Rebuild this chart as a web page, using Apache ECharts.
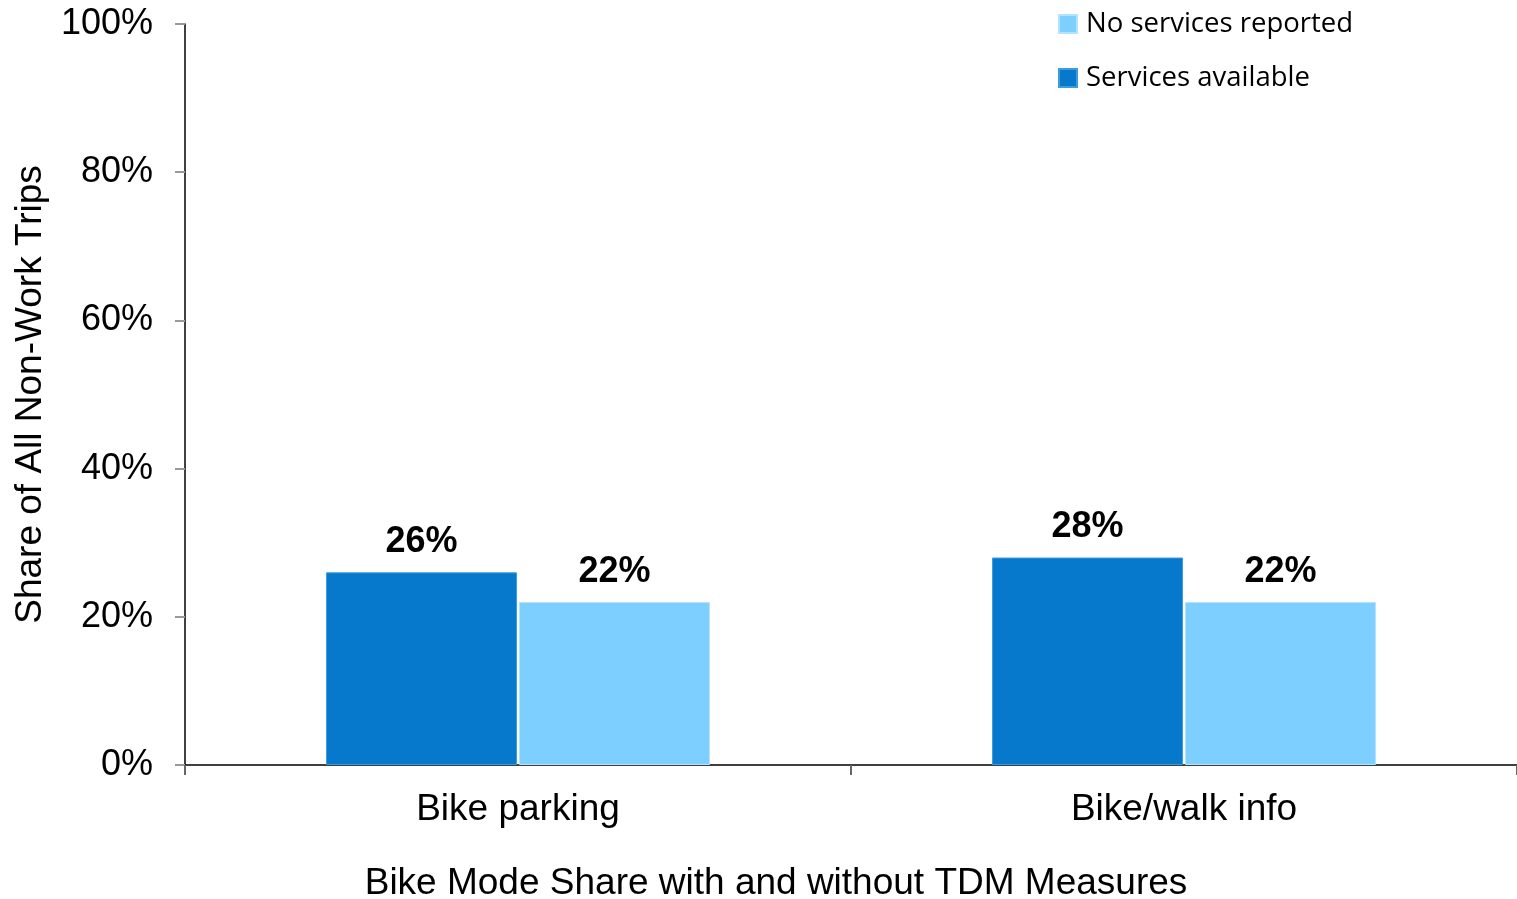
<!DOCTYPE html>
<html>
<head>
<meta charset="utf-8">
<script src="https://cdn.jsdelivr.net/npm/echarts@6/dist/echarts.min.js"></script>
<style>
  html, body { margin: 0; padding: 0; background: #fff; }
  #chart { width: 1517px; height: 899px; }
</style>
</head>
<body>
<div id="chart"></div>
<script>
const categories = ['Bike parking', 'Bike/walk info']
const servicesAvailable = [26, 28]
const noServices = [22, 22]
const yTicks = [0, 20, 40, 60, 80, 100]

const chart = echarts.init(document.getElementById('chart'))

const labelStyle = {
  show: true,
  position: 'top',
  distance: 12,
  formatter: p => p.value + '%',
  fontFamily: 'Liberation Sans, Arial',
  fontSize: 36,
  fontWeight: 'bold',
  color: '#000'
}

chart.setOption({
  animation: false,
  textStyle: { fontFamily: 'Liberation Sans, Arial' },
  grid: { left: 185, right: 0, top: 24, bottom: 134, outerBoundsMode: 'none' },
  legend: {
    orient: 'vertical',
    left: 1053,
    top: 5,
    itemWidth: 18,
    itemHeight: 18,
    itemGap: 26,
    icon: 'rect',
    data: ['No services reported', 'Services available'],
    textStyle: { fontFamily: 'Open Sans', fontSize: 27.5, color: '#000', padding: [0, 0, 0, 4] }
  },
  xAxis: {
    type: 'category',
    data: categories,
    axisLine: { lineStyle: { color: '#000', width: 1.5 } },
    axisTick: { show: true, length: 10, lineStyle: { color: '#666', width: 2 } },
    axisLabel: { fontSize: 37, color: '#000', margin: 26 },
    name: 'Bike Mode Share with and without TDM Measures',
    nameLocation: 'middle',
    nameGap: 100,
    nameTextStyle: { fontSize: 37, color: '#000', padding: [0, 150, 0, 0] }
  },
  yAxis: {
    type: 'value',
    min: yTicks[0],
    max: yTicks[yTicks.length - 1],
    interval: 20,
    splitLine: { show: false },
    axisLine: { show: true, lineStyle: { color: '#000', width: 1.5 } },
    axisTick: { show: true, length: 10, lineStyle: { color: '#999', width: 2 } },
    axisLabel: { fontSize: 36, color: '#000', margin: 32, padding: [4, 0, 0, 0], formatter: v => v + '%' },
    name: 'Share of All Non-Work Trips',
    nameLocation: 'middle',
    nameGap: 136,
    nameTextStyle: { fontSize: 37, color: '#000' }
  },
  series: [
    {
      name: 'Services available',
      type: 'bar',
      data: servicesAvailable,
      barWidth: 191,
      barGap: '1%',
      itemStyle: { color: '#0779CC', borderColor: '#3D9BE0', borderWidth: 1 },
      label: labelStyle
    },
    {
      name: 'No services reported',
      type: 'bar',
      data: noServices,
      barWidth: 191,
      itemStyle: { color: '#7DCFFF', borderColor: '#B5E3FF', borderWidth: 1 },
      label: labelStyle
    }
  ]
})
</script>
</body>
</html>
